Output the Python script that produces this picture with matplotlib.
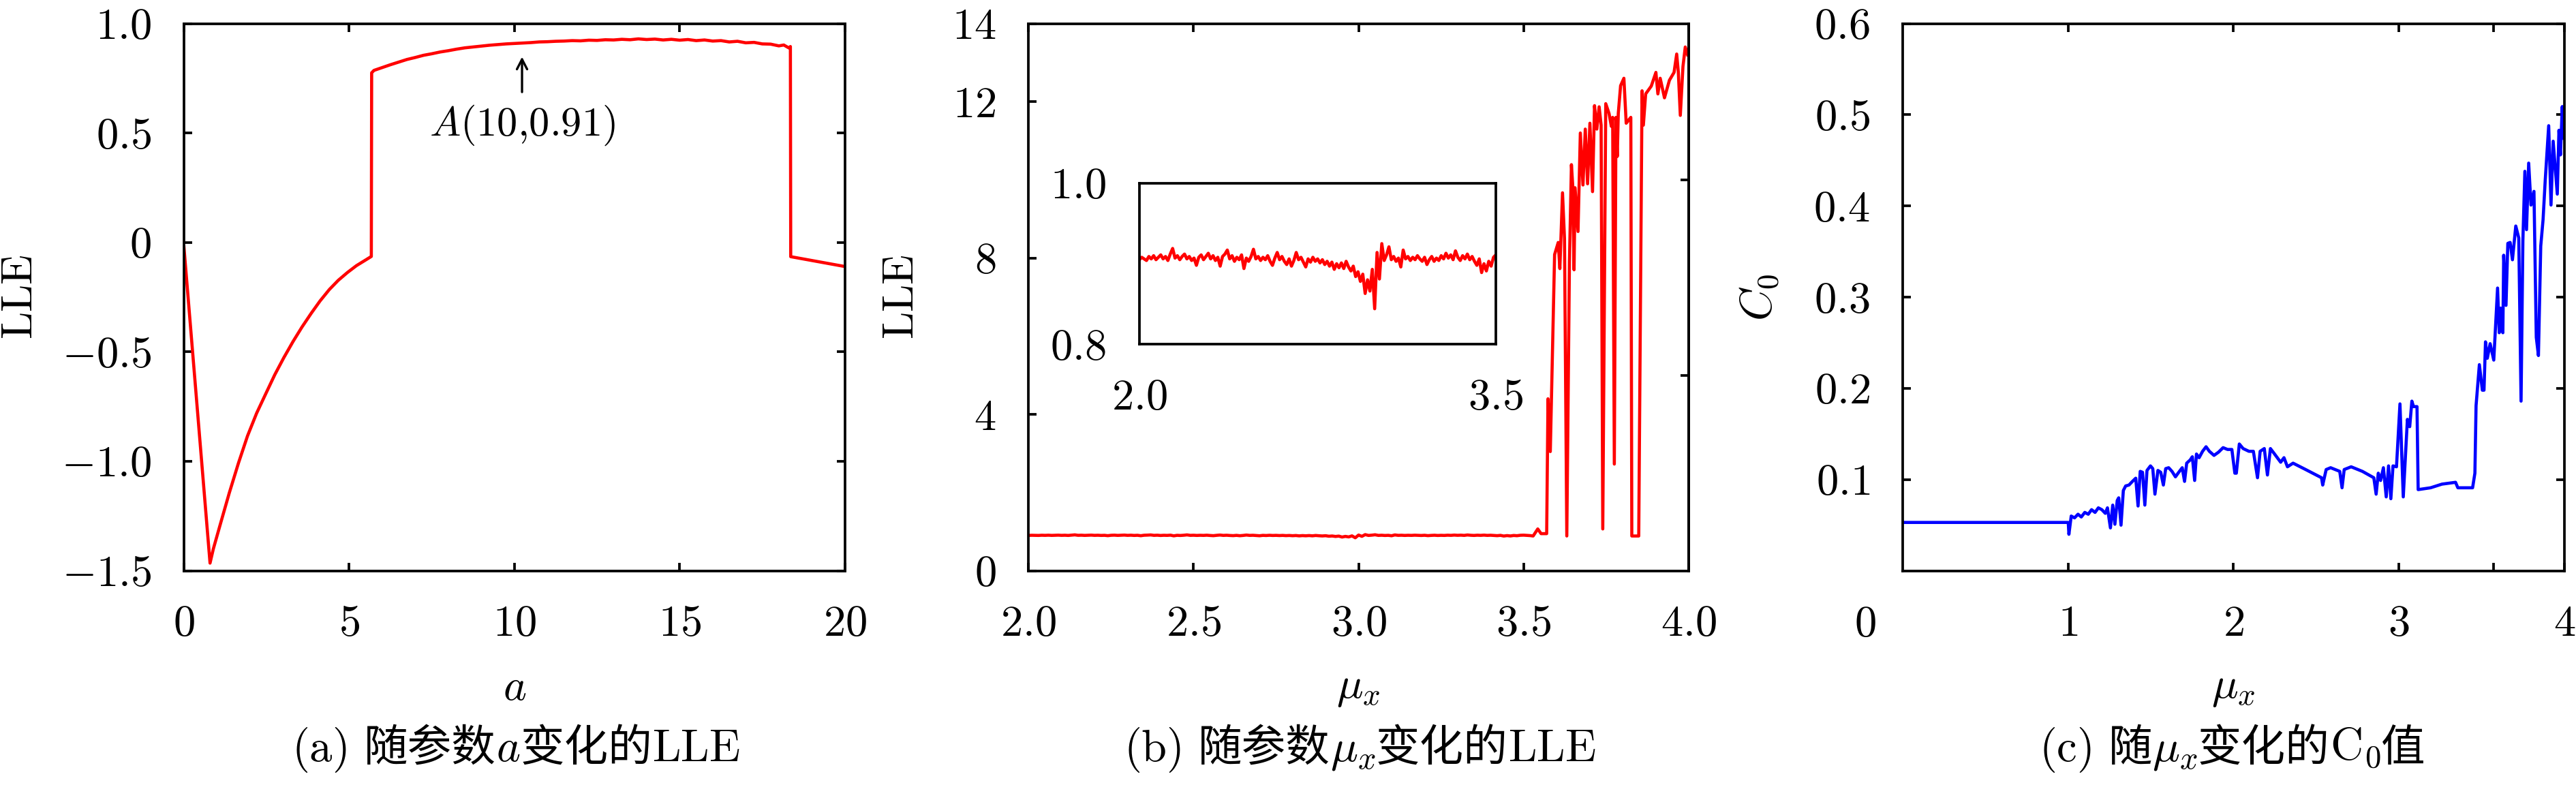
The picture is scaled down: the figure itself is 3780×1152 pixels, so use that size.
import numpy as np
import matplotlib
matplotlib.use('Agg')
import matplotlib.pyplot as plt
from matplotlib.offsetbox import TextArea, HPacker, AnchoredOffsetbox, DrawingArea
import matplotlib.transforms as mtransforms

plt.rcParams['mathtext.fontset'] = 'cm'
plt.rcParams['font.family'] = ['cmr10', 'Noto Sans CJK SC', 'DejaVu Sans']
plt.rcParams['axes.formatter.use_mathtext'] = True

# ---------------- data (a) ----------------
a_rise_x = [0.0, 0.79, 0.89, 1.10, 1.375, 1.65, 1.924, 2.2, 2.474, 2.75, 3.024,
            3.30, 3.574, 3.85, 4.12, 4.40, 4.67, 4.95, 5.22, 5.50, 5.67]
a_rise_y = [-0.02, -1.465, -1.40, -1.288, -1.143, -1.008, -0.884, -0.78, -0.692,
            -0.604, -0.526, -0.453, -0.386, -0.324, -0.267, -0.215, -0.173,
            -0.137, -0.106, -0.080, -0.064]
a_plat_x = [5.68, 5.75, 6.0, 6.25, 6.5, 6.75, 7.0, 7.25, 7.5, 7.75, 8.0, 8.25,
            8.5, 8.75, 9.0, 9.25, 9.5, 9.75, 10.0, 10.25, 10.5, 10.75, 11.0,
            11.25, 11.5, 11.75, 12.0, 12.25, 12.5, 12.75, 13.0, 13.25, 13.5,
            13.75, 14.0, 14.25, 14.5, 14.75, 15.0, 15.25, 15.5, 15.75, 16.0,
            16.25, 16.5, 16.75, 17.0, 17.25, 17.5, 17.75, 18.0, 18.15, 18.3, 18.35]
a_plat_y = [0.775, 0.786, 0.799, 0.812, 0.824, 0.836, 0.845, 0.855, 0.862, 0.870,
            0.876, 0.883, 0.889, 0.893, 0.897, 0.901, 0.904, 0.907, 0.909, 0.911,
            0.913, 0.916, 0.917, 0.919, 0.920, 0.922, 0.921, 0.924, 0.923, 0.926,
            0.925, 0.928, 0.926, 0.930, 0.927, 0.929, 0.925, 0.928, 0.924, 0.927,
            0.922, 0.925, 0.920, 0.922, 0.916, 0.919, 0.912, 0.914, 0.907, 0.906,
            0.898, 0.902, 0.889, 0.895]
a_tail_x = [18.36, 20.0]
a_tail_y = [-0.065, -0.11]

# ---------------- data (b) ----------------
b_low_lle = [
    0.905, 0.908, 0.906, 0.904, 0.909, 0.906, 0.910, 0.905, 0.908, 0.911,
    0.906, 0.909, 0.904, 0.912, 0.919, 0.907, 0.910, 0.905, 0.909, 0.912,
    0.906, 0.909, 0.904, 0.907, 0.898, 0.908, 0.911, 0.905, 0.909, 0.913,
    0.906, 0.910, 0.904, 0.908, 0.897, 0.909, 0.912, 0.917, 0.906, 0.910,
    0.903, 0.908, 0.905, 0.911, 0.894, 0.907, 0.903, 0.909, 0.918, 0.906,
    0.909, 0.904, 0.908, 0.905, 0.910, 0.903, 0.898, 0.907, 0.914, 0.905,
    0.909, 0.903, 0.899, 0.906, 0.897, 0.904, 0.914, 0.905, 0.908, 0.902,
    0.896, 0.906, 0.902, 0.908, 0.903, 0.906, 0.901, 0.905, 0.899, 0.903,
    0.897, 0.902, 0.893, 0.900, 0.895, 0.901, 0.894, 0.903, 0.896, 0.891,
    0.897, 0.884, 0.890, 0.878, 0.887, 0.863, 0.880, 0.866, 0.893, 0.844,
    0.914, 0.881, 0.925, 0.904, 0.911, 0.921, 0.905, 0.909, 0.903, 0.907,
    0.896, 0.917, 0.906, 0.909, 0.904, 0.908, 0.905, 0.910, 0.906, 0.903,
    0.908, 0.899, 0.905, 0.909, 0.903, 0.907, 0.904, 0.910, 0.906, 0.913,
    0.907, 0.911, 0.905, 0.916, 0.908, 0.904, 0.910, 0.906, 0.912, 0.905,
    0.909, 0.903, 0.898, 0.906, 0.889, 0.900, 0.891, 0.903, 0.897, 0.908,
    0.911]
b_low_mu = np.round(np.linspace(2.0, 3.5, len(b_low_lle)), 3)
b_hi_mu = [3.51, 3.52, 3.529, 3.543, 3.553, 3.570, 3.574, 3.581, 3.584, 3.594,
           3.605, 3.610, 3.618, 3.624, 3.631, 3.639, 3.645, 3.649, 3.653, 3.656,
           3.665, 3.672, 3.680, 3.687, 3.694, 3.701, 3.709, 3.715, 3.722, 3.729,
           3.735, 3.740, 3.749, 3.759, 3.766, 3.770, 3.775, 3.780, 3.784, 3.787,
           3.794, 3.804, 3.811, 3.825, 3.828, 3.849, 3.859, 3.863, 3.870, 3.887,
           3.901, 3.907, 3.914, 3.927, 3.942, 3.956, 3.964, 3.969, 3.975, 3.983,
           3.990, 3.997]
b_hi_lle = [0.905, 0.90, 0.89, 1.07, 0.95, 0.95, 4.40, 3.05, 4.2, 8.09,
            8.4, 7.73, 9.67, 8.5, 0.89, 7.9, 10.39, 9.85, 7.7, 9.8,
            8.68, 11.2, 9.87, 11.3, 9.9, 11.45, 9.7, 11.9, 11.3, 11.87,
            11.4, 1.07, 11.95, 11.7, 11.37, 11.6, 2.73, 11.6, 10.6, 11.7,
            12.41, 12.6, 11.45, 11.6, 0.89, 0.89, 12.28, 11.4, 12.2, 12.4,
            12.75, 12.2, 12.6, 12.1, 12.55, 12.75, 13.22, 12.75, 11.65, 12.9,
            13.4, 13.2]

# ---------------- data (c) ----------------
c_mu = [0.0, 1.001, 1.005, 1.019, 1.039, 1.060, 1.080, 1.101, 1.122, 1.142,
        1.163, 1.183, 1.204, 1.225, 1.238, 1.256, 1.270, 1.283, 1.297, 1.306,
        1.320, 1.334, 1.348, 1.368, 1.389, 1.409, 1.423, 1.436, 1.450, 1.464,
        1.477, 1.498, 1.512, 1.525, 1.543, 1.560, 1.576, 1.590, 1.608, 1.628,
        1.649, 1.669, 1.690, 1.704, 1.717, 1.738, 1.751, 1.765, 1.776, 1.792,
        1.813, 1.834, 1.854, 1.882, 1.909, 1.937, 1.964, 1.990, 2.008, 2.017,
        2.035, 2.058, 2.093, 2.120, 2.145, 2.161, 2.186, 2.205, 2.223, 2.244,
        2.285, 2.305, 2.326, 2.360, 2.436, 2.532, 2.539, 2.560, 2.587, 2.642,
        2.656, 2.669, 2.711, 2.779, 2.848, 2.862, 2.875, 2.889, 2.906, 2.923,
        2.937, 2.951, 2.964, 2.985, 3.006, 3.026, 3.051, 3.065, 3.078, 3.088,
        3.109, 3.116, 3.191, 3.260, 3.342, 3.356, 3.445, 3.459, 3.466, 3.486,
        3.504, 3.514, 3.523, 3.534, 3.551, 3.573, 3.596, 3.606, 3.614, 3.628,
        3.633, 3.647, 3.658, 3.672, 3.686, 3.706, 3.724, 3.738, 3.749, 3.761,
        3.771, 3.784, 3.798, 3.816, 3.830, 3.843, 3.857, 3.871, 3.884, 3.905,
        3.919, 3.932, 3.957, 3.967, 3.976, 3.987, 3.994, 4.0]
c_val = [0.053, 0.053, 0.040, 0.060, 0.058, 0.062, 0.059, 0.064, 0.062, 0.067,
         0.064, 0.069, 0.067, 0.063, 0.069, 0.047, 0.072, 0.051, 0.077, 0.080,
         0.050, 0.088, 0.093, 0.094, 0.098, 0.1015, 0.071, 0.109, 0.108, 0.072,
         0.110, 0.115, 0.112, 0.084, 0.110, 0.108, 0.094, 0.112, 0.113, 0.109,
         0.103, 0.108, 0.113, 0.098, 0.118, 0.1215, 0.125, 0.099, 0.128, 0.124,
         0.131, 0.136, 0.131, 0.1265, 0.130, 0.135, 0.133, 0.133, 0.107, 0.107,
         0.139, 0.134, 0.131, 0.131, 0.102, 0.131, 0.134, 0.105, 0.134, 0.129,
         0.119, 0.124, 0.114, 0.118, 0.111, 0.102, 0.094, 0.111, 0.113, 0.109,
         0.091, 0.111, 0.114, 0.109, 0.102, 0.084, 0.107, 0.099, 0.113, 0.081,
         0.115, 0.079, 0.115, 0.114, 0.183, 0.081, 0.166, 0.158, 0.186, 0.180,
         0.180, 0.089, 0.091, 0.095, 0.097, 0.091, 0.091, 0.107, 0.181, 0.226,
         0.198, 0.198, 0.251, 0.233, 0.249, 0.231, 0.310, 0.261, 0.288, 0.261,
         0.346, 0.291, 0.359, 0.360, 0.341, 0.378, 0.365, 0.186, 0.362, 0.438,
         0.374, 0.447, 0.401, 0.416, 0.256, 0.236, 0.356, 0.385, 0.428, 0.488,
         0.401, 0.471, 0.413, 0.483, 0.456, 0.509, 0.474, 0.50]

# tick labels
a_xticks = [0, 5, 10, 15, 20]
a_yticks = [-1.5, -1.0, -0.5, 0, 0.5, 1.0]
a_yticklabels = ['$-1.5$', '$-1.0$', '$-0.5$', '$0$', '$0.5$', '$1.0$']
b_xticks = [2.0, 2.5, 3.0, 3.5, 4.0]
b_yticks = [0, 4, 8, 12, 14]
b_rticks = [5, 10]
c_xticks = [1, 2, 3, 3.57, 4]
c_xticklabels = ['$1$', '$2$', '$3$', '', '$4$']
c_yticks = [0.1, 0.2, 0.3, 0.4, 0.5, 0.6]

FS = 15.5
LW = 1.1
SP = 0.9
TL = 2.9

fig = plt.figure(figsize=(12.6, 3.84), dpi=300)
fig.patch.set_facecolor('white')


def style(ax):
    for s in ax.spines.values():
        s.set_linewidth(SP)
    ax.tick_params(direction='in', length=TL, width=SP, top=True, right=True,
                   labelsize=FS)
    ax.tick_params(axis='x', pad=12.2)
    ax.tick_params(axis='y', pad=11.5)


def m(v, fmt):
    return ['$' + (fmt % t) + '$' for t in v]


# ---------- panel (a) ----------
axA = fig.add_axes([0.0714, 0.2729, 0.2566, 0.6971])
style(axA)
a_x = a_rise_x + a_plat_x + a_tail_x
a_y = a_rise_y + a_plat_y + a_tail_y
axA.plot(a_x, a_y, color='#ff0000', lw=LW)
axA.set_xlim(0, 20)
axA.set_ylim(-1.5, 1.0)
axA.set_xticks(a_xticks)
axA.set_xticklabels(m(a_xticks, '%d'))
axA.set_yticks(a_yticks)
axA.set_yticklabels(a_yticklabels)
axA.set_xlabel('$a$', fontsize=FS)
axA.set_ylabel(r'$\mathrm{LLE}$', fontsize=FS)
axA.xaxis.set_label_coords(0.5, -0.18)
axA.yaxis.set_label_coords(-0.216, 0.5)
axA.annotate('', xy=(10.23, 0.848), xytext=(10.23, 0.687),
             arrowprops=dict(arrowstyle='->,head_length=0.35,head_width=0.18',
                             lw=0.8, color='black', shrinkA=0, shrinkB=0))
axA.text(10.24, 0.535, r'$A\mathrm{(10{,}0.91)}$', ha='center', va='center',
         fontsize=14.5)

# ---------- panel (b) ----------
axB = fig.add_axes([0.3993, 0.2729, 0.2562, 0.6971])
style(axB)
axB.tick_params(right=False)
b_mu = np.concatenate([b_low_mu, b_hi_mu])
b_lle = np.concatenate([b_low_lle, b_hi_lle])
axB.plot(b_mu, b_lle, color='#ff0000', lw=LW)
axB.set_xlim(2.0, 4.0)
axB.set_ylim(0, 14)
axB.set_xticks(b_xticks)
axB.set_xticklabels(m(b_xticks, '%.1f'))
axB.set_yticks(b_yticks)
axB.set_yticklabels(m(b_yticks, '%d'))
axB.set_xlabel(r'$\mu_x$', fontsize=FS)
axB.set_ylabel(r'$\mathrm{LLE}$', fontsize=FS)
axB.xaxis.set_label_coords(0.5, -0.18)
axB.yaxis.set_label_coords(-0.161, 0.5)
sec = axB.secondary_yaxis('right')
sec.set_yticks(b_rticks)
sec.set_yticklabels([])
sec.tick_params(direction='in', length=TL, width=SP)
sec.spines['right'].set_linewidth(SP)

# inset
axI = fig.add_axes([0.4423, 0.5616, 0.1384, 0.2049])
for s in axI.spines.values():
    s.set_linewidth(SP)
axI.plot(b_low_mu, b_low_lle, color='#ff0000', lw=LW)
axI.set_xlim(2.0, 3.5)
axI.set_ylim(0.8, 1.0)
axI.set_xticks([2.0, 3.5])
axI.set_xticklabels(['$2.0$', '$3.5$'])
axI.set_yticks([0.8, 1.0])
axI.set_yticklabels(['$0.8$', '$1.0$'])
axI.tick_params(length=0, labelsize=FS)
axI.tick_params(axis='x', pad=12.2)
axI.tick_params(axis='y', pad=11.8)

# ---------- panel (c) ----------
axC = fig.add_axes([0.7386, 0.2729, 0.2569, 0.6971])
style(axC)
axC.plot(c_mu, c_val, color='#0000ff', lw=LW)
axC.set_xlim(0, 4)
axC.set_ylim(0, 0.6)
axC.set_xticks(c_xticks)
axC.set_xticklabels(c_xticklabels)
axC.set_yticks(c_yticks)
axC.set_yticklabels(m(c_yticks, '%.1f'))
axC.set_xlabel(r'$\mu_x$', fontsize=FS)
axC.set_ylabel(r'$C_0$', fontsize=FS)
axC.xaxis.set_label_coords(0.5, -0.18)
axC.yaxis.set_label_coords(-0.183, 0.5)
trC = mtransforms.blended_transform_factory(axC.transData, axC.transAxes)
axC.text(-0.227, -0.0635, '$0$', transform=trC, ha='center', va='top',
         fontsize=FS, clip_on=False)


# ---------- captions ----------
def caption(parts, xc, yc):
    kids = []
    for txt, kind in parts:
        if kind == 'cjk':
            kids.append(TextArea(txt, textprops=dict(family='Noto Sans CJK SC',
                                                     size=FS)))
        elif kind == 'gap':
            kids.append(DrawingArea(txt, 1))
        else:
            kids.append(TextArea(txt, textprops=dict(size=FS + 0.5)))
    box = HPacker(children=kids, align='baseline', pad=0, sep=0)
    ab = AnchoredOffsetbox(loc='center', child=box, frameon=False,
                           bbox_to_anchor=(xc, yc),
                           bbox_transform=fig.transFigure,
                           borderpad=0, pad=0)
    fig.add_artist(ab)


caption([(r'$\mathrm{(a)}$', 'm'), (6.0, 'gap'), ('随参数', 'cjk'), ('$a$', 'm'),
         ('变化的', 'cjk'), (r'$\mathrm{LLE}$', 'm')], 0.2003, 0.045)
caption([(r'$\mathrm{(b)}$', 'm'), (6.0, 'gap'), ('随参数', 'cjk'),
         (r'$\mu_x$', 'm'), ('变化的', 'cjk'), (r'$\mathrm{LLE}$', 'm')],
        0.5278, 0.045)
caption([(r'$\mathrm{(c)}$', 'm'), (6.0, 'gap'), ('随', 'cjk'), (r'$\mu_x$', 'm'),
         ('变化的', 'cjk'), (r'$\mathrm{C}_0$', 'm'), ('值', 'cjk')],
        0.8664, 0.045)

fig.savefig('out.png', dpi=300, facecolor='white')
